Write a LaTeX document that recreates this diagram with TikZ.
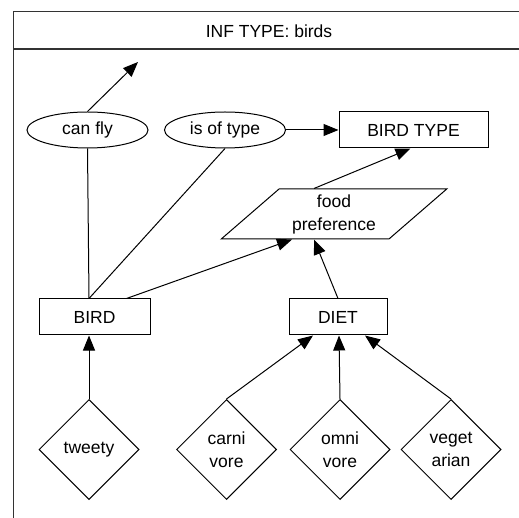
\documentclass[tikz,border=0pt]{standalone}
\usepackage{fontspec}
\setmainfont{Liberation Sans}
\usetikzlibrary{shapes.geometric,arrows.meta}
\begin{document}
\begin{tikzpicture}[x=1pt,y=-1pt,
  every node/.style={font=\fontsize{17.5}{23}\selectfont, inner sep=0pt, align=center},
  conn/.style={line width=1pt},
  arr/.style={conn, -{Triangle[length=15pt,width=12pt]}},
  rel/.style={draw, line width=1pt, ellipse, minimum width=121pt, minimum height=36pt},
  ent/.style={draw, line width=1pt, rectangle, minimum height=36pt},
  inst/.style={draw, line width=1pt, diamond, minimum width=100pt, minimum height=100pt},
  attr/.style={draw, line width=1pt, trapezium, trapezium left angle=41.8, trapezium right angle=138.2,
    trapezium stretches=true, minimum width=226pt, minimum height=50pt},
  frame/.style={line width=1.3pt, draw=black!80}]
\useasboundingbox (0,0) rectangle (519,518);

% outer frame with its header band
\draw[frame] (13.5,518) -- (13.5,11.5) -- (519,11.5);
\draw[frame] (13.5,49) -- (519,49);
\node (title) at (269,31) {INF TYPE: birds};

% relations
\node[rel] (canfly) at (87.5,130) {can fly};
\node[rel] (isof) at (225,130) {is of type};
\node[ent, minimum width=149pt] (birdtype) at (413.5,130) {BIRD TYPE};
\node[attr] (food) at (334,214) {food\\preference};

% entity types
\node[ent, minimum width=111pt] (bird) at (94.5,317) {BIRD};
\node[ent, minimum width=98pt] (diet) at (338,317) {DIET};

% instances
\node[inst] (tweety) at (89,449.5) {tweety};
\node[inst] (carni) at (226.5,449.5) {carni\\vore};
\node[inst] (omni) at (340,449.5) {omni\\vore};
\node[inst] (veget) at (451,449.5) {veget\\arian};

\coordinate (flyend) at (138,62);

% connectors
\draw[arr] (canfly.north) -- (flyend);
\draw[arr] (isof.east) -- (birdtype.west);
\draw[arr] ([xshift=-20pt]food.north) -- ([xshift=-3pt]birdtype.south);
\draw[conn] (canfly.south) -- ([xshift=-5.5pt]bird.north);
\draw[conn] (isof.south) -- ([xshift=-5.5pt]bird.north);
\draw[arr] ([xshift=32pt]bird.north) -- ([xshift=-42pt]food.south);
\draw[arr] (diet.north) -- ([xshift=-20pt]food.south);
\draw[arr] (tweety.north) -- ([xshift=-5.5pt]bird.south);
\draw[arr] (carni.north) -- ([xshift=-25pt]diet.south);
\draw[arr] (omni.north) -- ([xshift=1pt]diet.south);
\draw[arr] (veget.north) -- ([xshift=27pt]diet.south);
\end{tikzpicture}
\end{document}
